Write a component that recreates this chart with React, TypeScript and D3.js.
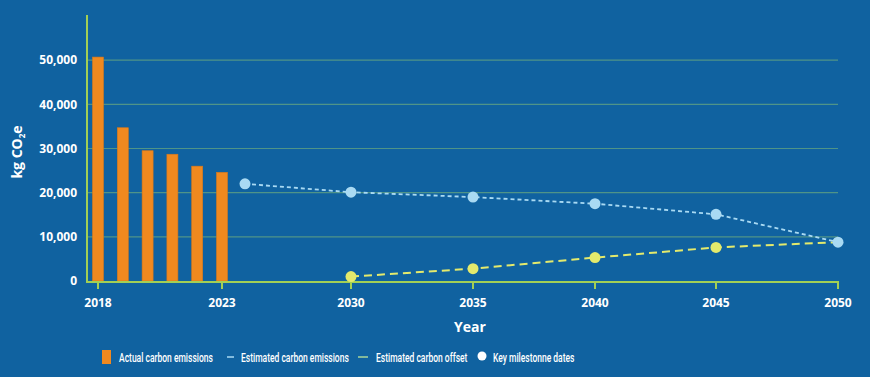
import React from "react";
import * as d3 from "d3";

const barYears = [2018, 2019, 2020, 2021, 2022, 2023];
const barValues = [50700, 34700, 29500, 28700, 26000, 24600];

const estEmissionYears = [2024, 2030, 2035, 2040, 2045, 2050];
const estEmissionValues = [22000, 20100, 19000, 17500, 15100, 8800];

const offsetYears = [2030, 2035, 2040, 2045, 2050];
const offsetValues = [1000, 2800, 5300, 7600, 8800];

const xTickYears = [2018, 2023, 2030, 2035, 2040, 2045, 2050];
const yTicks = [0, 10000, 20000, 30000, 40000, 50000];

const legendItems = [
  "Actual carbon emissions",
  "Estimated carbon emissions",
  "Estimated carbon offset",
  "Key milestonne dates",
];

const W = 870;
const H = 377;
const BG = "#1062a0";
const AXIS = "#a2cf55";
const GRID = "#4f9488";
const ORANGE = "#f0891f";
const BLUE = "#a9daf3";
const YELLOW = "#e4ea6c";

export default function App() {
  const x = d3
    .scaleLinear()
    .domain([2018, 2023, 2024, 2030, 2035, 2040, 2045, 2050])
    .range([98, 222, 245, 351, 473, 595, 716, 838]);
  const y = d3.scaleLinear().domain([0, 60000]).range([281, 16]);
  const barW = 11;
  const fmt = d3.format(",");

  const lineGen = d3
    .line<[number, number]>()
    .x((d) => x(d[0]))
    .y((d) => y(d[1]));

  const estPts: [number, number][] = estEmissionYears.map((yr, i) => [yr, estEmissionValues[i]]);
  const offPts: [number, number][] = offsetYears.map((yr, i) => [yr, offsetValues[i]]);

  const tickFont = "'Open Sans', 'Noto Sans', Roboto, sans-serif";
  const legendFont = "Roboto, 'Noto Sans', sans-serif";
  const legendX = [119, 241, 376, 493];
  const sx = 0.63;

  return (
    <svg
      width={W}
      height={H}
      style={{ position: "absolute", left: 0, top: 0, display: "block" }}
    >
      <rect x={0} y={0} width={W} height={H} fill={BG} />
      {/* gridlines */}
      {yTicks
        .filter((t) => t > 0)
        .map((t) => (
          <line key={t} x1={87} x2={838} y1={y(t)} y2={y(t)} stroke={GRID} strokeWidth={1.2} />
        ))}
      {/* bars */}
      {barYears.map((yr, i) => (
        <rect
          key={yr}
          x={x(yr) - barW / 2}
          y={y(barValues[i])}
          width={barW}
          height={y(0) - y(barValues[i])}
          fill={ORANGE}
          stroke="#d9781a"
          strokeWidth={0.6}
        />
      ))}
      {/* axes */}
      <line x1={87} x2={87} y1={15} y2={282} stroke={AXIS} strokeWidth={2} />
      <line x1={86} x2={839} y1={282} y2={282} stroke={AXIS} strokeWidth={2} />
      {xTickYears.map((yr) => (
        <line key={yr} x1={x(yr)} x2={x(yr)} y1={282} y2={289} stroke={AXIS} strokeWidth={2} />
      ))}
      {/* y tick labels */}
      {yTicks.map((t) => (
        <text
          key={t}
          x={77}
          y={y(t)}
          dy="0.35em"
          textAnchor="end"
          fill="#ffffff"
          fontFamily={tickFont}
          fontWeight={700}
          fontSize={12}
        >
          {fmt(t)}
        </text>
      ))}
      {/* x tick labels */}
      {xTickYears.map((yr) => (
        <text
          key={yr}
          x={x(yr)}
          y={303}
          dy="0.35em"
          textAnchor="middle"
          fill="#ffffff"
          fontFamily={tickFont}
          fontWeight={700}
          fontSize={12}
        >
          {yr}
        </text>
      ))}
      {/* axis titles */}
      <text
        x={470}
        y={327}
        dy="0.35em"
        textAnchor="middle"
        fill="#ffffff"
        fontFamily={tickFont}
        fontWeight={700}
        fontSize={14}
      >
        Year
      </text>
      <text
        transform="translate(22,152) rotate(-90)"
        textAnchor="middle"
        fill="#ffffff"
        fontFamily={tickFont}
        fontWeight={700}
        fontSize={14}
      >
        kg CO
        <tspan fontSize={8} dy={3}>2</tspan>
        <tspan dy={-3}>e</tspan>
      </text>
      {/* lines */}
      <path
        d={lineGen(offPts) || ""}
        fill="none"
        stroke={YELLOW}
        strokeWidth={2}
        strokeDasharray="8,5"
      />
      <path
        d={lineGen(estPts) || ""}
        fill="none"
        stroke={BLUE}
        strokeWidth={1.8}
        strokeDasharray="4,3"
      />
      {offPts.slice(0, -1).map((p) => (
        <circle key={"o" + p[0]} cx={x(p[0])} cy={y(p[1])} r={5.5} fill={YELLOW} />
      ))}
      {estPts.map((p) => (
        <circle key={"e" + p[0]} cx={x(p[0])} cy={y(p[1])} r={5.5} fill={BLUE} />
      ))}
      {/* legend */}
      <rect x={102} y={350} width={9} height={14} fill={ORANGE} />
      <line x1={227} x2={234} y1={357} y2={357} stroke={BLUE} strokeWidth={1.5} />
      <line x1={358} x2={368} y1={357} y2={357} stroke="#a8d79a" strokeWidth={1.5} />
      <circle cx={482} cy={356} r={4.5} fill="#ffffff" />
      {legendItems.map((label, i) => (
        <text
          key={label}
          transform={`translate(${legendX[i]},357) scale(${sx},1)`}
          dy="0.35em"
          fontFamily={legendFont}
          fontSize={13.5}
          fontWeight={500}
          fill="#ffffff"
        >
          {label}
        </text>
      ))}
    </svg>
  );
}
